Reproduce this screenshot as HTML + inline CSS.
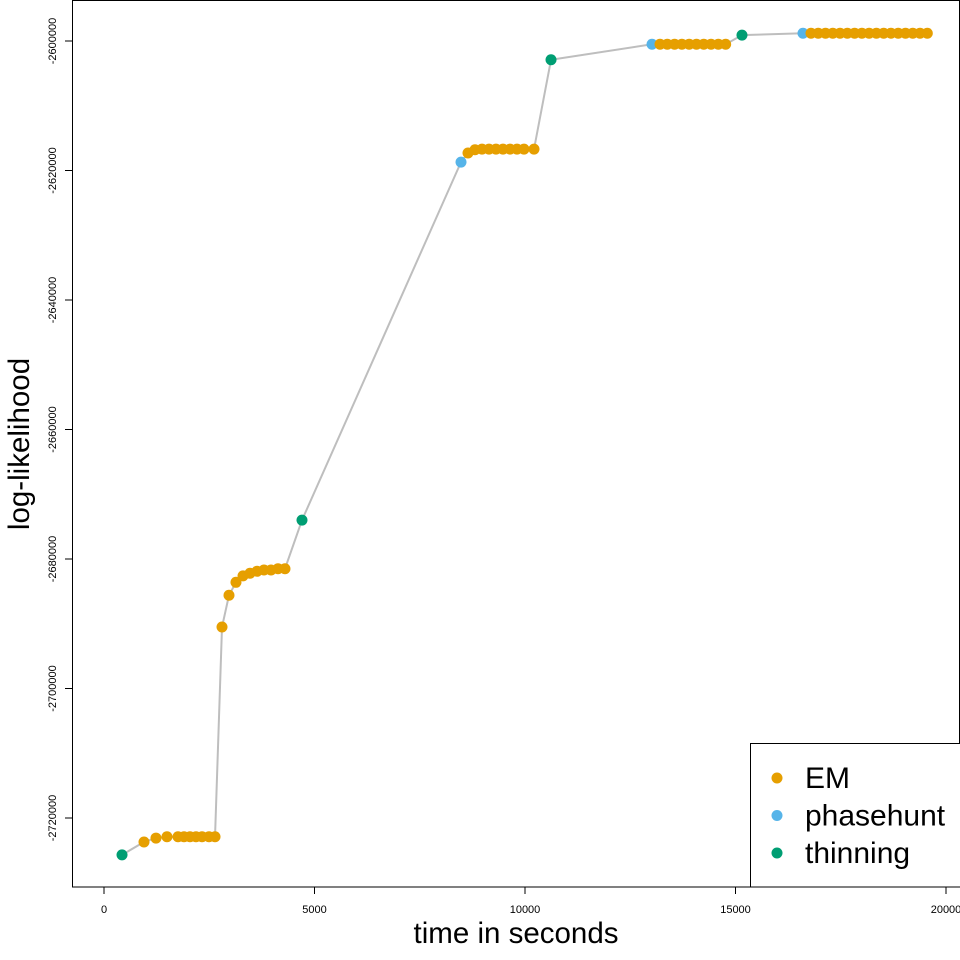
<!DOCTYPE html>
<html><head><meta charset="utf-8"><style>body{margin:0;background:#fff}svg{display:block;font-family:"Liberation Sans",sans-serif}</style></head>
<body>
<svg id="c" width="960" height="960"></svg>
<script>
const times=[428,950,1235,1496,1758,1900,2043,2185,2328,2494,2637,2803,2969,3135,3302,3468,3634,3800,3967,4133,4299,4703,8480,8646,8812,8979,9145,9311,9477,9644,9810,9976,10214,10618,13017,13207,13380,13553,13726,13900,14073,14246,14419,14593,14766,15154,16603,16793,16965,17138,17311,17483,17656,17829,18002,18174,18347,18520,18692,18865,19038,19211,19383,19556];
const loglik=[-2725700,-2723700,-2723100,-2722900,-2722900,-2722900,-2722900,-2722900,-2722900,-2722900,-2722900,-2690500,-2685600,-2683600,-2682600,-2682200,-2681900,-2681700,-2681700,-2681500,-2681500,-2674000,-2618700,-2617300,-2616800,-2616700,-2616700,-2616700,-2616700,-2616700,-2616700,-2616700,-2616700,-2602900,-2600500,-2600500,-2600500,-2600500,-2600500,-2600500,-2600500,-2600500,-2600500,-2600500,-2600500,-2599100,-2598800,-2598800,-2598800,-2598800,-2598800,-2598800,-2598800,-2598800,-2598800,-2598800,-2598800,-2598800,-2598800,-2598800,-2598800,-2598800,-2598800,-2598800];
const kinds=["T","E","E","E","E","E","E","E","E","E","E","E","E","E","E","E","E","E","E","E","E","T","P","E","E","E","E","E","E","E","E","E","E","T","P","E","E","E","E","E","E","E","E","E","E","T","P","E","E","E","E","E","E","E","E","E","E","E","E","E","E","E","E","E"];
const xTicks=[0,5000,10000,15000,20000];
const yTicks=[-2600000,-2620000,-2640000,-2660000,-2680000,-2700000,-2720000];
const colors={E:"#E69F00",P:"#56B4E9",T:"#009E73"};
const names={E:"EM",P:"phasehunt",T:"thinning"};
const sx=v=>104+v*0.0421;
const sy=v=>41+(-2600000-v)*0.006475;
const svg=document.getElementById('c');const NS="http://www.w3.org/2000/svg";
function mk(t,a,p){const e=document.createElementNS(NS,t);for(const k in a)e.setAttribute(k,a[k]);(p||svg).appendChild(e);return e;}
const frame=mk('rect',{x:72.5,y:0.5,width:887,height:886.5,fill:'none',stroke:'#000','stroke-width':1});


xTicks.forEach(v=>{const x=sx(v);
 const l=mk('line',{x1:x,x2:x,y1:887,y2:894,stroke:'#000'});
 
 
 const t=mk('text',{x:x,y:913,'text-anchor':'middle','font-size':11});t.textContent=v;
 
 });
yTicks.forEach(v=>{const y=sy(v);
 const l=mk('line',{x1:65,x2:72,y1:y,y2:y,stroke:'#000'});
 
 
 const t=mk('text',{x:0,y:0,'text-anchor':'middle','font-size':11,transform:`translate(56,${y}) rotate(-90)`});t.textContent=v;
 
 });
const xt=mk('text',{x:516,y:943,'text-anchor':'middle','font-size':29.5});xt.textContent='time in seconds';


const yt=mk('text',{x:0,y:0,'text-anchor':'middle','font-size':29.5,transform:'translate(29,444) rotate(-90)'});yt.textContent='log-likelihood';


const ln=mk('polyline',{points:times.map((t,i)=>sx(t)+','+sy(loglik[i])).join(' '),fill:'none',stroke:'#bebebe','stroke-width':2});


times.forEach((t,i)=>{const c=mk('circle',{cx:sx(t),cy:sy(loglik[i]),r:5.5,fill:colors[kinds[i]]});
 
 });
const lg=mk('g',{});


mk('rect',{x:750.5,y:743.5,width:220,height:143.5,fill:'#fff',stroke:'#000'},lg);
["E","P","T"].forEach((k,i)=>{const y=778+i*37.5;
 mk('circle',{cx:777,cy:y,r:5.5,fill:colors[k]},lg);
 const t=mk('text',{x:805,y:y+10,'font-size':30},lg);t.textContent=names[k];
 
 });
</script>
</body></html>
